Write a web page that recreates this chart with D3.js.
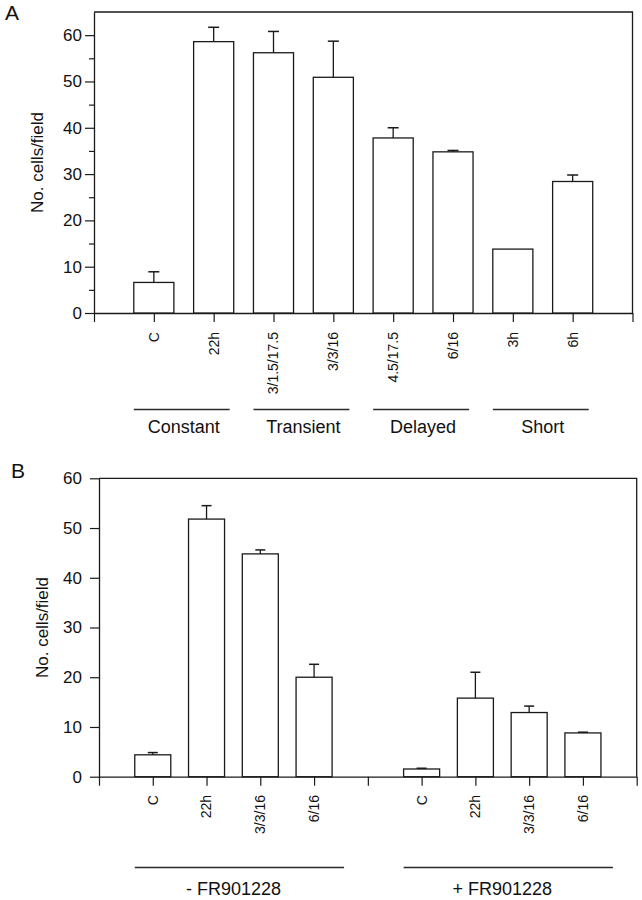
<!DOCTYPE html>
<html>
<head>
<meta charset="utf-8">
<script src="https://cdn.jsdelivr.net/npm/d3@7"></script>
<style>
  body { margin: 0; background: #fff; }
  svg { display: block; }
  text { font-family: Arial, "Liberation Sans", Helvetica, sans-serif; fill: #111; }
</style>
</head>
<body>
<svg id="chart" width="642" height="900"></svg>
<script>
// ---------- Panel A data ----------
const catsA = ["C", "22h", "3/1.5/17.5", "3/3/16", "4.5/17.5", "6/16", "3h", "6h"];
const meansA = [6.6, 58.6, 56.2, 50.9, 37.8, 34.8, 13.8, 28.4];
const errsA  = [2.3, 3.1, 4.6, 7.8, 2.2, 0.3, 0, 1.4];
const groupsA = [
  { name: "Constant",  first: 0, last: 1 },
  { name: "Transient", first: 2, last: 3 },
  { name: "Delayed",   first: 4, last: 5 },
  { name: "Short",     first: 6, last: 7 }
];
const yTicksA = [0, 10, 20, 30, 40, 50, 60];
const yMinorA = [5, 15, 25, 35, 45, 55];

// ---------- Panel B data ----------
const catsB = ["C", "22h", "3/3/16", "6/16", "C", "22h", "3/3/16", "6/16"];
const slotsB = [1, 2, 3, 4, 6, 7, 8, 9];
const meansB = [4.4, 51.8, 44.8, 20.0, 1.55, 15.8, 12.9, 8.8];
const errsB  = [0.45, 2.7, 0.8, 2.6, 0.15, 5.2, 1.3, 0.15];
const groupsB = [
  { name: "- FR901228", first: 0, last: 3 },
  { name: "+ FR901228", first: 4, last: 7 }
];
const yTicksB = [0, 10, 20, 30, 40, 50, 60];

const svg = d3.select("#chart");
const ink = "#1a1a1a";

function panel(cfg) {
  const g = svg.append("g");
  const x = d3.scaleLinear().domain([0, cfg.nSlots]).range([cfg.left, cfg.right]);
  const y = d3.scaleLinear().domain([0, cfg.yMax]).range([cfg.bottom, cfg.top]);

  // frame (top + right)
  g.append("path")
    .attr("d", `M${cfg.left},${cfg.top}H${cfg.right}V${cfg.bottom}`)
    .attr("fill", "none").attr("stroke", ink).attr("stroke-width", 1.3);

  // y axis
  const ya = g.append("g").attr("transform", `translate(${cfg.left},0)`)
    .call(d3.axisLeft(y).tickValues(cfg.yTicks).tickSize(9).tickPadding(cfg.yPad).tickSizeOuter(0));
  ya.select(".domain").attr("stroke", ink).attr("stroke-width", 1.3);
  ya.selectAll(".tick line").attr("stroke", ink).attr("stroke-width", 1.2);
  ya.selectAll(".tick text").style("font-size", "17px").attr("fill", ink);
  if (cfg.yMinor) {
    const ym = g.append("g").attr("transform", `translate(${cfg.left},0)`)
      .call(d3.axisLeft(y).tickValues(cfg.yMinor).tickSize(5).tickFormat("").tickSizeOuter(0));
    ym.select(".domain").remove();
    ym.selectAll(".tick line").attr("stroke", ink).attr("stroke-width", 1.2);
  }

  // x axis
  const xa = g.append("g").attr("transform", `translate(0,${cfg.bottom})`)
    .call(d3.axisBottom(x).tickValues(d3.range(0, cfg.nSlots + 1)).tickSize(9).tickFormat("").tickSizeOuter(0));
  xa.select(".domain").attr("stroke", ink).attr("stroke-width", 1.3);
  xa.selectAll(".tick line").attr("stroke", ink).attr("stroke-width", 1.2);

  const unit = x(1) - x(0);
  const bw = unit * 0.67;

  // bars
  g.selectAll("rect.bar").data(cfg.means).enter().append("rect")
    .attr("class", "bar")
    .attr("x", (d, i) => x(cfg.slots[i]) - bw / 2)
    .attr("y", d => y(d))
    .attr("width", bw)
    .attr("height", d => y(0) - y(d))
    .attr("fill", "#fff").attr("stroke", ink).attr("stroke-width", 1.3);

  // error bars
  cfg.means.forEach((m, i) => {
    const e = cfg.errs[i];
    if (!e) return;
    const cx = x(cfg.slots[i]);
    g.append("line").attr("x1", cx).attr("x2", cx).attr("y1", y(m)).attr("y2", y(m + e))
      .attr("stroke", ink).attr("stroke-width", 1.3);
    g.append("line").attr("x1", cx - cfg.cap / 2).attr("x2", cx + cfg.cap / 2).attr("y1", y(m + e)).attr("y2", y(m + e))
      .attr("stroke", ink).attr("stroke-width", 1.5);
  });

  // category labels
  cfg.cats.forEach((c, i) => {
    const cx = x(cfg.slots[i]);
    g.append("text")
      .attr("transform", `translate(${cx},${cfg.catY}) rotate(-90)`)
      .attr("text-anchor", "end").attr("dy", "0.35em")
      .style("font-size", "14px").text(c);
  });

  // groups
  cfg.groups.forEach(gr => {
    const x0 = x(cfg.slots[gr.first]) + cfg.gStart;
    const x1 = x(cfg.slots[gr.last]) + cfg.gEnd;
    g.append("line").attr("x1", x0).attr("x2", x1).attr("y1", cfg.gLineY).attr("y2", cfg.gLineY)
      .attr("stroke", "#2a2a2a").attr("stroke-width", 1.4);
    const cx = (x(cfg.slots[gr.first]) + x(cfg.slots[gr.last])) / 2;
    g.append("text").attr("x", cx).attr("y", cfg.gTextY).attr("text-anchor", "middle")
      .style("font-size", "18px").text(gr.name);
  });

  // y title
  g.append("text")
    .attr("transform", `translate(${cfg.left - 51},${(cfg.top + cfg.bottom) / 2}) rotate(-90)`)
    .attr("text-anchor", "middle")
    .style("font-size", "17px").text("No. cells/field");

  // panel letter
  g.append("text").attr("x", cfg.letterX).attr("y", cfg.letterY)
    .style("font-size", "21px").text(cfg.letter);
}

panel({
  letter: "A", letterX: 5, letterY: 20,
  cats: catsA, slots: d3.range(1, catsA.length + 1), means: meansA, errs: errsA, groups: groupsA,
  nSlots: 9, left: 94, right: 632.5, top: 12, bottom: 313, yMax: 65,
  yTicks: yTicksA, yMinor: yMinorA, yPad: 3, cap: 11,
  catY: 332, gLineY: 409.5, gTextY: 432.5, gStart: -20, gEnd: 16
});

panel({
  letter: "B", letterX: 11, letterY: 478,
  cats: catsB, slots: slotsB, means: meansB, errs: errsB, groups: groupsB,
  nSlots: 10, left: 99, right: 636.7, top: 478.3, bottom: 776.7, yMax: 60,
  yTicks: yTicksB, yMinor: null, yPad: 8, cap: 10,
  catY: 795, gLineY: 867.5, gTextY: 895, gStart: -18, gEnd: 30
});
</script>
</body>
</html>
